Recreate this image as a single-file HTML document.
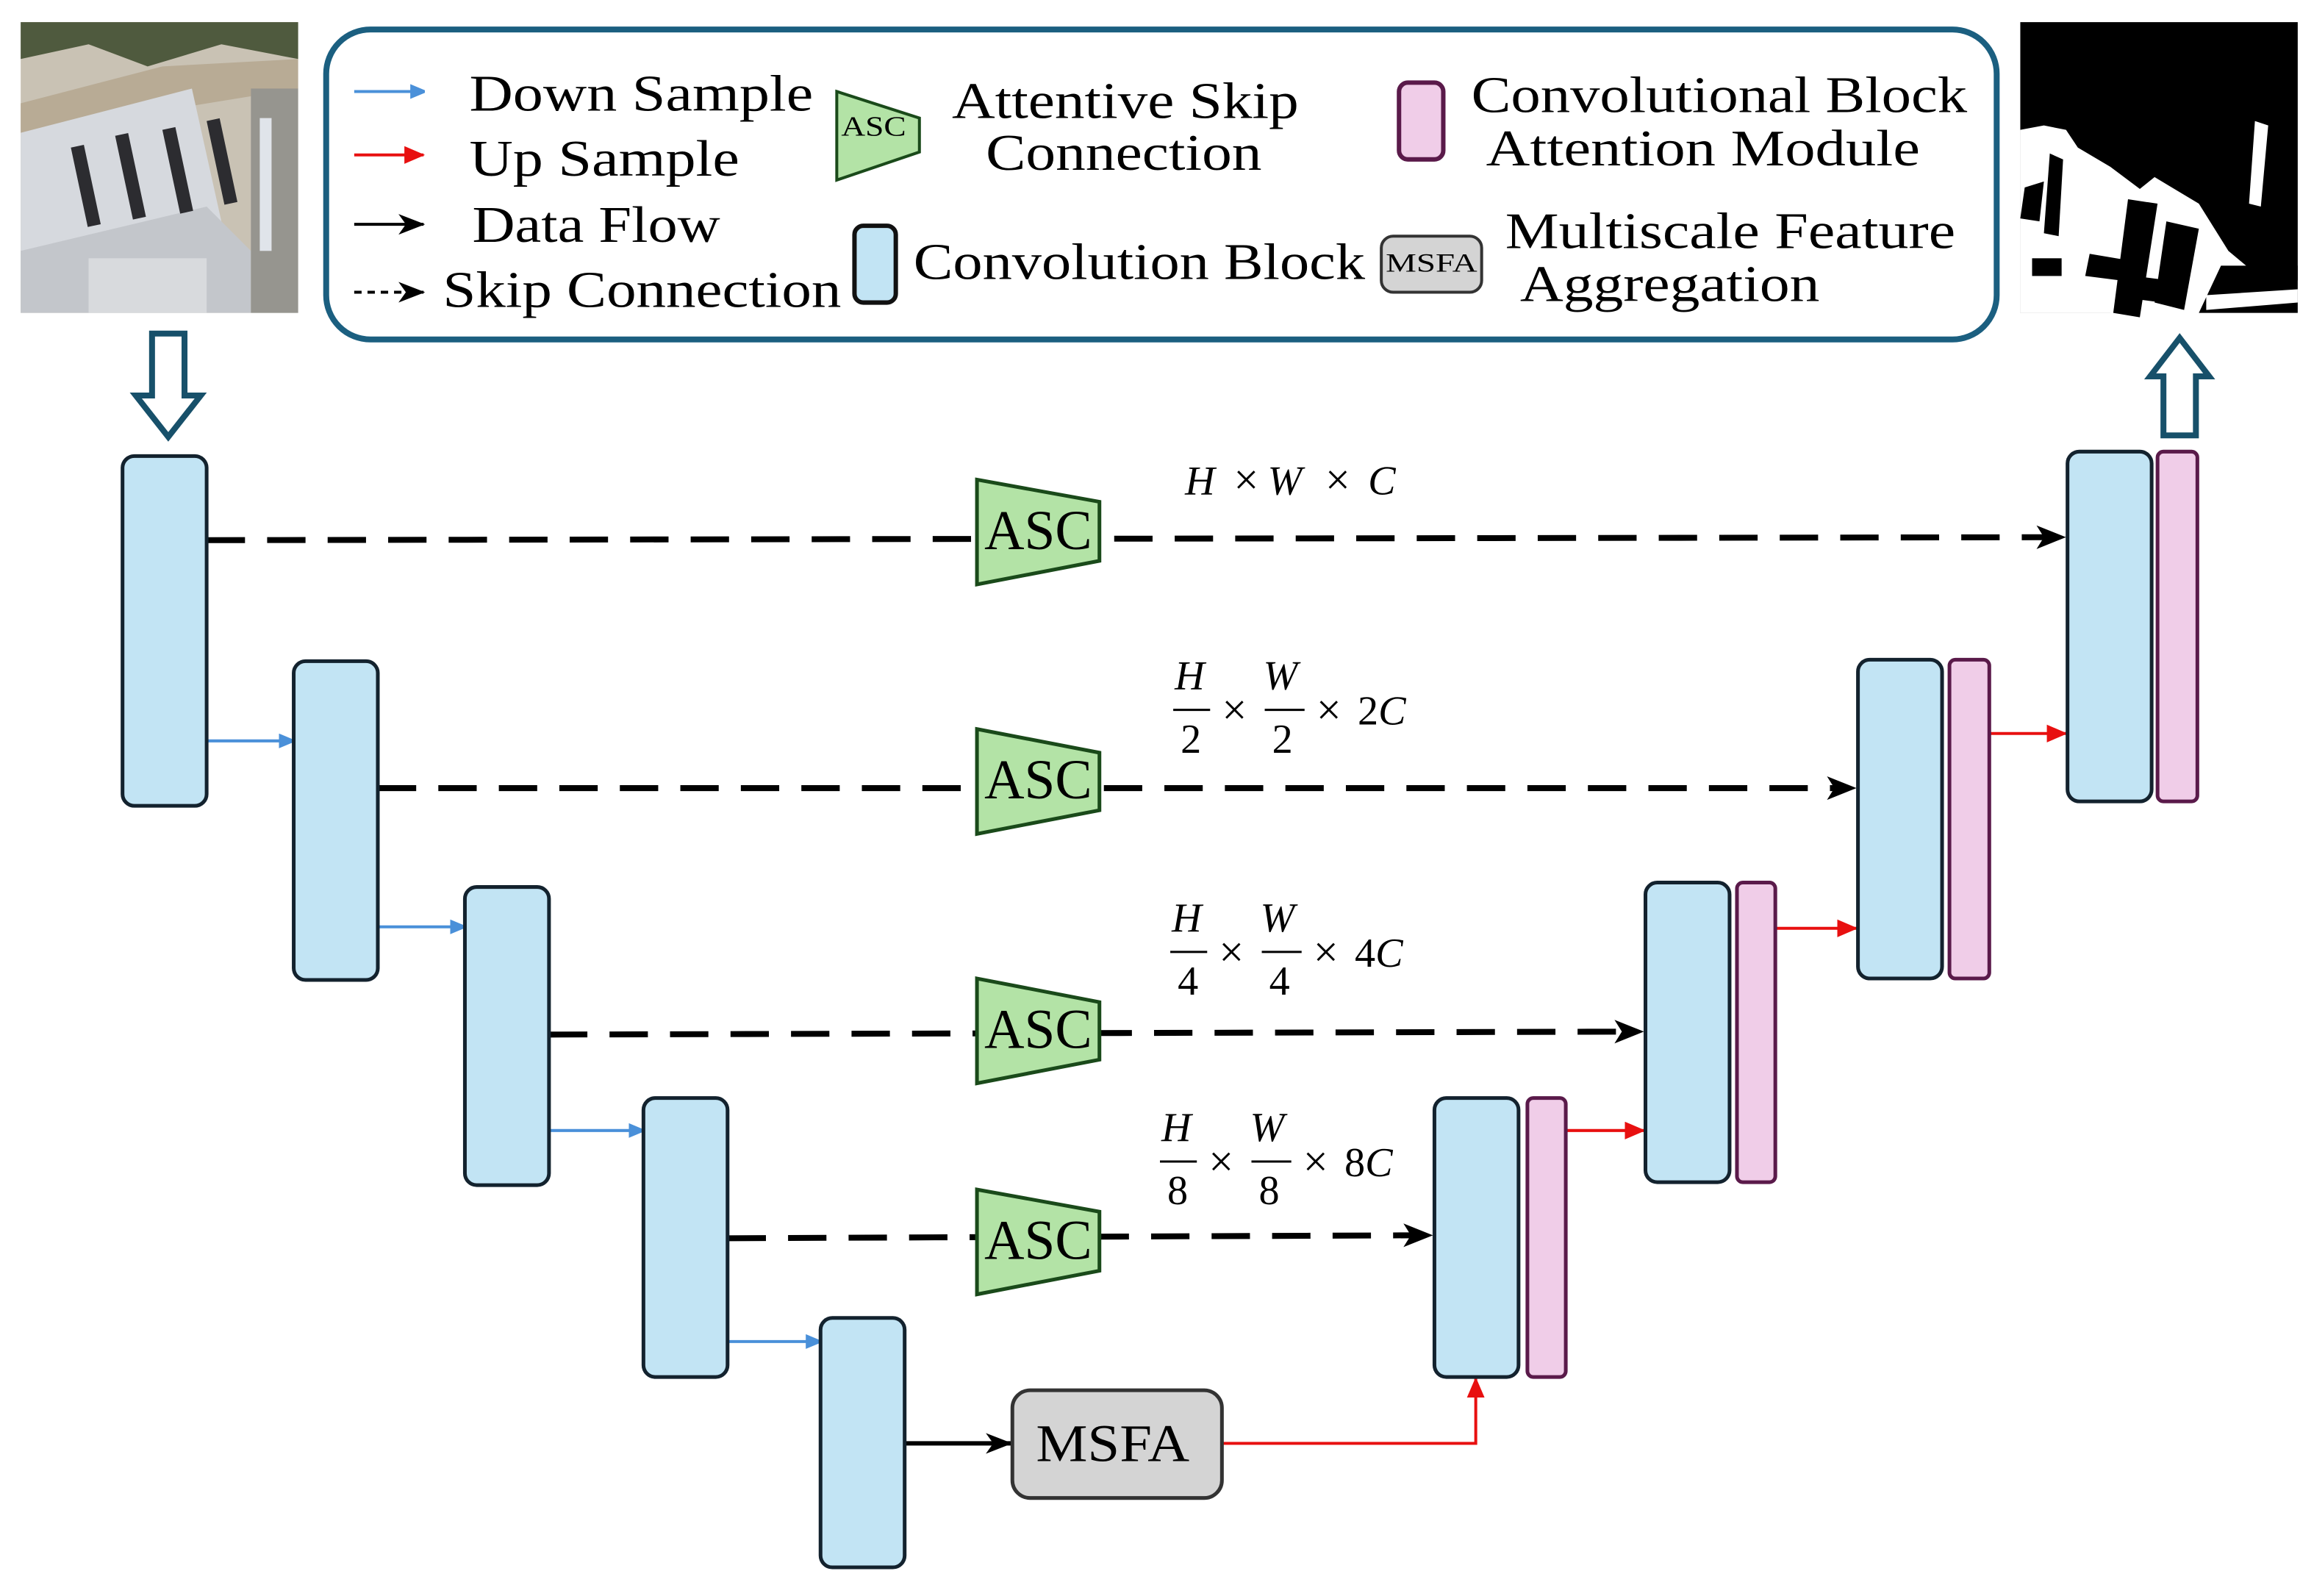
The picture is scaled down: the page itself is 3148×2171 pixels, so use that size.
<!DOCTYPE html>
<html><head><meta charset="utf-8"><style>html,body{margin:0;padding:0;background:#fff}svg{display:block}text{font-family:"Liberation Serif",serif}</style></head>
<body>
<svg width="3148" height="2171" viewBox="0 0 1568 1081.4" xmlns="http://www.w3.org/2000/svg">
<defs>
<marker id="ab" markerWidth="10" markerHeight="10" refX="9" refY="5" orient="auto" markerUnits="userSpaceOnUse"><path d="M0,0 L12,5 L0,10 z" fill="#4a90d9"/></marker>
<marker id="ar" markerWidth="14" markerHeight="12" refX="13" refY="6" orient="auto" markerUnits="userSpaceOnUse"><path d="M0,0 L14,6 L0,12 z" fill="#e81010"/></marker>
<marker id="ak" markerWidth="18" markerHeight="14" refX="17" refY="7" orient="auto" markerUnits="userSpaceOnUse"><path d="M0,0 L18,7 L0,14 L5,7 z" fill="#000"/></marker>
</defs>
<!-- input image -->
<g>
<rect x="14" y="15" width="188" height="197" fill="#c9c2b4"/>
<path d="M14,15 L202,15 L202,40 L150,30 L100,45 L60,30 L14,40z" fill="#4f5a3e"/>
<path d="M14,70 L110,45 L202,40 L202,60 L110,75 L14,90z" fill="#b8ab95"/>
<path d="M14,90 L130,60 L150,150 L14,190z" fill="#d6d9de"/>
<path d="M14,170 L140,140 L170,170 L170,212 L14,212z" fill="#c3c6cb"/>
<rect x="48" y="100" width="9" height="55" fill="#2c2c30" transform="rotate(-12 48 100)"/>
<rect x="78" y="92" width="9" height="58" fill="#2c2c30" transform="rotate(-12 78 92)"/>
<rect x="110" y="88" width="9" height="58" fill="#2c2c30" transform="rotate(-12 110 88)"/>
<rect x="140" y="82" width="9" height="58" fill="#2c2c30" transform="rotate(-12 140 82)"/>
<rect x="60" y="175" width="80" height="37" fill="#d8dadd"/>
<rect x="170" y="60" width="32" height="152" fill="#96958f"/>
<rect x="176" y="80" width="8" height="90" fill="#e0e4ea"/>
</g>
<!-- output mask -->
<g>
<rect x="1369" y="15" width="188" height="197" fill="#000"/>
<path d="M1369,88 L1385,85 L1400,88 L1408,100 L1430,113 L1450,128 L1460,120 L1490,138 L1510,170 L1522,180 L1522,195 L1500,198 L1500,212 L1369,212z" fill="#fff"/>
<path d="M1369,152 L1400,160 L1440,175 L1470,180 L1520,195 L1557,200 L1557,212 L1369,212z" fill="#fff"/>
<rect x="1430" y="190" width="150" height="30" fill="#fff"/>
<path d="M1372,127 L1385,123 L1382,150 L1369,148z" fill="#000"/>
<path d="M1389,104 L1398,108 L1395,160 L1385,158z" fill="#000"/>
<path d="M1442,135 L1462,138 L1450,215 L1432,212z" fill="#000"/>
<path d="M1468,150 L1490,155 L1480,210 L1460,205z" fill="#000"/>
<rect x="1377" y="175" width="20" height="12" fill="#000"/>
<path d="M1416,172 L1440,176 L1437,190 L1413,187z" fill="#000"/>
<path d="M1446,187 L1470,190 L1465,205 L1442,202z" fill="#000"/>
<path d="M1528,82 L1537,85 L1532,140 L1524,138z" fill="#fff"/>
<path d="M1505,180 L1557,180 L1557,212 L1490,212z" fill="#000"/>
<path d="M1495,200 L1557,196 L1557,205 L1495,210z" fill="#fff"/>
</g>
<!-- hollow arrows -->
<path d="M103,226 L125,226 L125,268 L136,268 L114,296 L92,268 L103,268z" fill="#fff" stroke="#17506a" stroke-width="4"/>
<path d="M1466,295 L1488,295 L1488,255 L1497,255 L1477,229 L1457,255 L1466,255z" fill="#fff" stroke="#17506a" stroke-width="4"/>
<!-- legend -->
<rect x="221" y="20" width="1132" height="210" rx="30" fill="#fff" stroke="#1b5f80" stroke-width="4"/>
<g font-size="35" fill="#000" lengthAdjust="spacingAndGlyphs">
<line x1="240" y1="62" x2="287" y2="62" stroke="#4a90d9" stroke-width="2" marker-end="url(#ab)"/>
<text x="318" y="75" textLength="233" lengthAdjust="spacingAndGlyphs">Down Sample</text>
<line x1="240" y1="105" x2="287" y2="105" stroke="#e81010" stroke-width="2" marker-end="url(#ar)"/>
<text x="318" y="119" textLength="183" lengthAdjust="spacingAndGlyphs">Up Sample</text>
<line x1="240" y1="152" x2="287" y2="152" stroke="#000" stroke-width="2" marker-end="url(#ak)"/>
<text x="320" y="164" textLength="168" lengthAdjust="spacingAndGlyphs">Data Flow</text>
<line x1="240" y1="198" x2="287" y2="198" stroke="#000" stroke-width="2" stroke-dasharray="5,4" marker-end="url(#ak)"/>
<text x="300" y="208" textLength="270" lengthAdjust="spacingAndGlyphs">Skip Connection</text>
<path d="M567,62 L623,80 L623,103 L567,122z" fill="#b3e3a6" stroke="#1a4a1a" stroke-width="2"/>
<text x="570" y="92" font-size="19" textLength="44" lengthAdjust="spacingAndGlyphs">ASC</text>
<text x="645" y="80" textLength="235" lengthAdjust="spacingAndGlyphs">Attentive Skip</text>
<text x="668" y="115" textLength="187" lengthAdjust="spacingAndGlyphs">Connection</text>
<rect x="579" y="153" width="28" height="52" rx="6" fill="#c2e4f4" stroke="#111" stroke-width="3"/>
<text x="619" y="189" textLength="306" lengthAdjust="spacingAndGlyphs">Convolution Block</text>
<rect x="936" y="160" width="68" height="38" rx="8" fill="#d4d4d4" stroke="#333" stroke-width="2"/>
<text x="939" y="184" font-size="18" textLength="62" lengthAdjust="spacingAndGlyphs">MSFA</text>
<rect x="948" y="56" width="30" height="52" rx="6" fill="#f0cde8" stroke="#5a1a4a" stroke-width="3"/>
<text x="997" y="76" textLength="336" lengthAdjust="spacingAndGlyphs">Convolutional Block</text>
<text x="1007" y="112" textLength="294" lengthAdjust="spacingAndGlyphs">Attention Module</text>
<text x="1020" y="168" textLength="305" lengthAdjust="spacingAndGlyphs">Multiscale Feature</text>
<text x="1030" y="204" textLength="203" lengthAdjust="spacingAndGlyphs">Aggregation</text>
</g>
<!-- skip connections -->
<g stroke="#000" stroke-width="4" stroke-dasharray="26,15" fill="none">
<line x1="140" y1="366" x2="1385" y2="364"/>
<line x1="256" y1="534" x2="1244" y2="534"/>
<line x1="372" y1="701" x2="1100" y2="699"/>
<line x1="493" y1="839" x2="958" y2="837"/>
</g>
<g fill="#000">
<path d="M1400,364 L1380,356 L1385,364 L1380,372z"/>
<path d="M1258,534 L1238,526 L1243,534 L1238,542z"/>
<path d="M1114,699 L1094,691 L1099,699 L1094,707z"/>
<path d="M971,837 L951,829 L956,837 L951,845z"/>
</g>
<!-- ASC blocks -->
<g fill="#b3e3a6" stroke="#1a4a1a" stroke-width="2.5">
<path d="M662,325 L745,340 L745,380 L662,396z"/>
<path d="M662,494 L745,510 L745,549 L662,565z"/>
<path d="M662,663 L745,679 L745,718 L662,734z"/>
<path d="M662,806 L745,821 L745,861 L662,877z"/>
</g>
<g font-size="38">
<text x="667" y="372" textLength="73" lengthAdjust="spacingAndGlyphs">ASC</text>
<text x="667" y="541" textLength="73" lengthAdjust="spacingAndGlyphs">ASC</text>
<text x="667" y="710" textLength="73" lengthAdjust="spacingAndGlyphs">ASC</text>
<text x="667" y="853" textLength="73" lengthAdjust="spacingAndGlyphs">ASC</text>
</g>
<!-- labels -->
<g font-size="28" font-style="italic">
<text x="803" y="335">H</text><text x="836" y="335" font-style="normal" font-size="30">×</text><text x="859" y="335">W</text><text x="898" y="335" font-style="normal" font-size="30">×</text><text x="927" y="335">C</text>
<g><text x="796" y="467">H</text><line x1="795" y1="481" x2="820" y2="481" stroke="#000" stroke-width="1.5"/><text x="800" y="510" font-style="normal">2</text><text x="828" y="491" font-style="normal" font-size="30">×</text><text x="856" y="467">W</text><line x1="857" y1="481" x2="884" y2="481" stroke="#000" stroke-width="1.5"/><text x="862" y="510" font-style="normal">2</text><text x="892" y="491" font-style="normal" font-size="30">×</text><text x="920" y="491"><tspan font-style="normal">2</tspan>C</text></g>
<g><text x="794" y="631">H</text><line x1="793" y1="645" x2="818" y2="645" stroke="#000" stroke-width="1.5"/><text x="798" y="674" font-style="normal">4</text><text x="826" y="655" font-style="normal" font-size="30">×</text><text x="854" y="631">W</text><line x1="855" y1="645" x2="882" y2="645" stroke="#000" stroke-width="1.5"/><text x="860" y="674" font-style="normal">4</text><text x="890" y="655" font-style="normal" font-size="30">×</text><text x="918" y="655"><tspan font-style="normal">4</tspan>C</text></g>
<g><text x="787" y="773">H</text><line x1="786" y1="787" x2="811" y2="787" stroke="#000" stroke-width="1.5"/><text x="791" y="816" font-style="normal">8</text><text x="819" y="797" font-style="normal" font-size="30">×</text><text x="847" y="773">W</text><line x1="848" y1="787" x2="875" y2="787" stroke="#000" stroke-width="1.5"/><text x="853" y="816" font-style="normal">8</text><text x="883" y="797" font-style="normal" font-size="30">×</text><text x="911" y="797"><tspan font-style="normal">8</tspan>C</text></g>
</g>
<!-- down sample arrows -->
<g stroke="#4a90d9" stroke-width="2" fill="none">
<line x1="140" y1="502" x2="198" y2="502" marker-end="url(#ab)"/>
<line x1="256" y1="628" x2="314" y2="628" marker-end="url(#ab)"/>
<line x1="372" y1="766" x2="435" y2="766" marker-end="url(#ab)"/>
<line x1="493" y1="909" x2="555" y2="909" marker-end="url(#ab)"/>
</g>
<!-- up sample arrows -->
<g stroke="#e81010" stroke-width="2" fill="none">
<line x1="1061" y1="766" x2="1114" y2="766" marker-end="url(#ar)"/>
<line x1="1203" y1="629" x2="1258" y2="629" marker-end="url(#ar)"/>
<line x1="1348" y1="497" x2="1400" y2="497" marker-end="url(#ar)"/>
<polyline points="828,978 1000,978 1000,934" marker-end="url(#ar)"/>
</g>
<line x1="613" y1="978" x2="685" y2="978" stroke="#000" stroke-width="3" marker-end="url(#ak)"/>
<!-- MSFA -->
<rect x="686" y="942" width="142" height="73" rx="12" fill="#d4d4d4" stroke="#333" stroke-width="2.5"/>
<text x="702" y="990" font-size="36" textLength="104" lengthAdjust="spacingAndGlyphs">MSFA</text>
<!-- conv blocks -->
<g fill="#c2e4f4" stroke="#13222e" stroke-width="2.5">
<rect x="83" y="309" width="57" height="237" rx="8"/>
<rect x="199" y="448" width="57" height="216" rx="8"/>
<rect x="315" y="601" width="57" height="202" rx="8"/>
<rect x="436" y="744" width="57" height="189" rx="8"/>
<rect x="556" y="893" width="57" height="169" rx="8"/>
<rect x="972" y="744" width="57" height="189" rx="8"/>
<rect x="1115" y="598" width="57" height="203" rx="8"/>
<rect x="1259" y="447" width="57" height="216" rx="8"/>
<rect x="1401" y="306" width="57" height="237" rx="8"/>
</g>
<g fill="#f0cde8" stroke="#5a1a4a" stroke-width="2.5">
<rect x="1035" y="744" width="26" height="189" rx="4"/>
<rect x="1177" y="598" width="26" height="203" rx="4"/>
<rect x="1321" y="447" width="27" height="216" rx="4"/>
<rect x="1462" y="306" width="27" height="237" rx="4"/>
</g>
</svg>
</body></html>
